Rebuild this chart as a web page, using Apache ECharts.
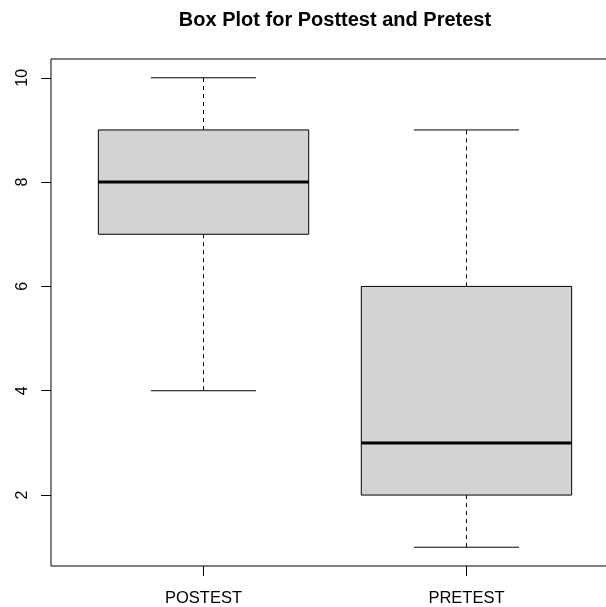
<!DOCTYPE html>
<html>
<head>
<meta charset="utf-8">
<script src="https://cdn.jsdelivr.net/npm/echarts@6/dist/echarts.min.js"></script>
<style>html,body{margin:0;padding:0;background:#fff;}#c{width:606px;height:607px;}</style>
</head>
<body>
<div id="c"></div>
<script>
var categories = ['POSTEST', 'PRETEST'];
var mins = [4, 1];
var q1s = [7, 2];
var medians = [8, 3];
var q3s = [9, 6];
var maxs = [10, 9];
var yTicks = [2, 4, 6, 8, 10];
var titleText = 'Box Plot for Posttest and Pretest';

var FONT = 'Liberation Sans, Arial, sans-serif';
var data = categories.map(function (c, i) {
  return [i + 1, mins[i], q1s[i], medians[i], q3s[i], maxs[i]];
});

var chart = echarts.init(document.getElementById('c'), null, {renderer: 'canvas'});
chart.setOption({
  animation: false,
  backgroundColor: '#fff',
  graphic: [{
    type: 'text', x: 335, y: 20,
    style: {text: titleText, textAlign: 'center', textVerticalAlign: 'middle',
      font: 'bold 20px ' + FONT, fill: '#000'}
  }],
  grid: {left: 51, top: 59, width: 568, height: 507, show: true,
    borderColor: '#000', borderWidth: 1, backgroundColor: 'transparent',
    containLabel: false, outerBoundsMode: 'none'},
  xAxis: {
    type: 'value', min: 0.42, max: 2.58,
    axisLine: {show: false},
    splitLine: {show: false},
    axisTick: {show: true, customValues: [1, 2], length: 10, lineStyle: {color: '#000'}},
    axisLabel: {show: true, customValues: [1, 2], margin: 24,
      formatter: function (v) { return categories[Math.round(v) - 1]; },
      fontFamily: FONT, fontSize: 16.5, color: '#000'}
  },
  yAxis: {
    type: 'value', min: 0.64, max: 10.36,
    axisLine: {show: false},
    splitLine: {show: false},
    axisTick: {show: true, customValues: yTicks, length: 10, lineStyle: {color: '#000'}},
    axisLabel: {show: true, customValues: yTicks, rotate: 90, margin: 20,
      fontFamily: FONT, fontSize: 16, color: '#000'}
  },
  series: [{
    type: 'custom',
    data: data,
    encode: {x: 0, y: [1, 2, 3, 4, 5]},
    renderItem: function (params, api) {
      var x = api.value(0);
      var pMin = api.coord([x, api.value(1)]);
      var pQ1 = api.coord([x, api.value(2)]);
      var pMed = api.coord([x, api.value(3)]);
      var pQ3 = api.coord([x, api.value(4)]);
      var pMax = api.coord([x, api.value(5)]);
      var bl = api.coord([x - 0.4, 0])[0];
      var br = api.coord([x + 0.4, 0])[0];
      var sl = api.coord([x - 0.2, 0])[0];
      var sr = api.coord([x + 0.2, 0])[0];
      var cx = pMed[0];
      var solid = {stroke: '#000', lineWidth: 1};
      var dashed = {stroke: '#000', lineWidth: 1, lineDash: [4, 4]};
      return {
        type: 'group',
        children: [
          {type: 'line', shape: {x1: cx, y1: pQ3[1], x2: cx, y2: pMax[1]}, style: dashed},
          {type: 'line', shape: {x1: cx, y1: pQ1[1], x2: cx, y2: pMin[1]}, style: dashed},
          {type: 'line', shape: {x1: sl, y1: pMax[1], x2: sr, y2: pMax[1]}, style: solid},
          {type: 'line', shape: {x1: sl, y1: pMin[1], x2: sr, y2: pMin[1]}, style: solid},
          {type: 'rect', shape: {x: bl, y: pQ3[1], width: br - bl, height: pQ1[1] - pQ3[1]},
            style: {fill: '#D3D3D3', stroke: '#000', lineWidth: 1}},
          {type: 'line', shape: {x1: bl, y1: pMed[1], x2: br, y2: pMed[1]},
            style: {stroke: '#000', lineWidth: 3}}
        ]
      };
    }
  }]
});
</script>
</body>
</html>
